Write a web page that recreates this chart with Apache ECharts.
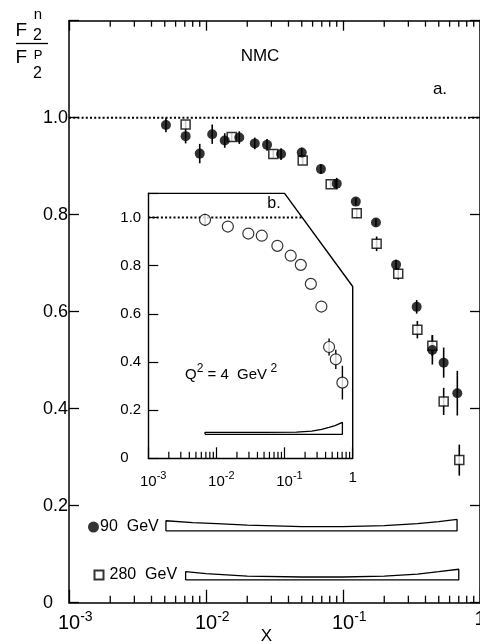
<!DOCTYPE html>
<html><head><meta charset="utf-8">
<script src="https://cdn.jsdelivr.net/npm/echarts@6/dist/echarts.min.js"></script>
<style>html,body{margin:0;padding:0;background:#fff}#c{width:480px;height:643px}</style>
</head><body><div id="c"></div><script>
const FONT = "'Liberation Sans', 'DejaVu Sans', sans-serif";

// ---- main panel (a.) data ----
const x90 = [0.0051,0.0071,0.0090,0.0111,0.0137,0.0175,0.0227,0.0279,0.0353,0.050,0.069,0.090,0.124,0.174,0.244,0.345,0.449,0.543,0.683];
const y90 = [0.985,0.962,0.926,0.966,0.953,0.959,0.947,0.944,0.925,0.928,0.894,0.864,0.827,0.784,0.697,0.610,0.521,0.495,0.432];
const e90 = [0.015,0.015,0.020,0.020,0.015,0.013,0.012,0.012,0.012,0.010,0.010,0.012,0.008,0.008,0.010,0.014,0.030,0.031,0.046];

const x280 = [0.0071,0.0154,0.031,0.0508,0.0813,0.126,0.176,0.253,0.349,0.449,0.543,0.706];
const y280 = [0.986,0.960,0.925,0.912,0.863,0.803,0.740,0.678,0.563,0.530,0.415,0.294];
const e280 = [0.008,0.008,0.008,0.008,0.008,0.010,0.015,0.012,0.018,0.022,0.028,0.032];

// systematic error bands
const band90X   = [0.0051,0.008,0.012,0.02,0.05,0.1,0.2,0.35,0.5,0.68];
const band90Top = [0.169,0.165,0.163,0.160,0.157,0.157,0.159,0.163,0.167,0.172];
const band90Base = 0.148;
const band280X   = [0.0071,0.01,0.02,0.05,0.1,0.2,0.35,0.5,0.7];
const band280Top = [0.064,0.060,0.055,0.053,0.053,0.055,0.059,0.064,0.069];
const band280Base = 0.047;

// ---- inset panel (b.) data ----
const xb = [0.0068,0.0147,0.0294,0.0463,0.0784,0.123,0.173,0.243,0.347,0.450,0.565,0.706];
const yb = [0.990,0.962,0.933,0.924,0.882,0.841,0.803,0.724,0.630,0.462,0.411,0.314];
const eb = [0.025,0,0,0,0,0,0,0,0,0.035,0.040,0.070];
const bandBX   = [0.0068,0.05,0.15,0.25,0.35,0.45,0.55,0.706];
const bandBTop = [0.108,0.108,0.109,0.113,0.120,0.128,0.136,0.149];
const bandBBase = 0.0995;
const frameX = [0.001,0.1,1,1];
const frameY = [1.1,1.1,0.713,0];
const unityBX = [0.001,0.181];

// ---- ticks / labels ----
const majorTicks = [0.001,0.01,0.1,1];
const decadeExp = ['-3','-2','-1',''];
const minorTicks = [0.002,0.003,0.004,0.005,0.006,0.007,0.008,0.009,
                    0.02,0.03,0.04,0.05,0.06,0.07,0.08,0.09,
                    0.2,0.3,0.4,0.5,0.6,0.7,0.8,0.9];
const yTicks = [0,0.2,0.4,0.6,0.8,1.0];
const yTickLabels = ['0','0.2','0.4','0.6','0.8','1.0'];

function zip(xs, ys){ return xs.map((x,i)=>[x, ys[i]]); }
function errData(xs, ys, es){ return xs.map((x,i)=>[x, ys[i]-es[i], ys[i]+es[i]]); }
function bandOutline(xs, tops, base){
  const pts = [[xs[0], base]];
  xs.forEach((x,i)=>pts.push([x, tops[i]]));
  pts.push([xs[xs.length-1], base]);
  pts.push([xs[0], base]);
  return pts;
}
function decadeLabel(v){
  let best = 0, d = 1e9;
  majorTicks.forEach((t,i)=>{ const dd = Math.abs(Math.log10(v)-Math.log10(t)); if (dd < d){d=dd;best=i;} });
  const e = decadeExp[best];
  if (e === '') return '{b|1}';
  return '{sp|}{b|10}{s|' + e + '}';
}
function yLabel(v){
  let best = 0, d = 1e9;
  yTicks.forEach((t,i)=>{ const dd = Math.abs(v-t); if (dd < d){d=dd;best=i;} });
  return d < 1e-6 ? yTickLabels[best] : '';
}
function errRender(w){
  return function(params, api){
    const lo = api.coord([api.value(0), api.value(1)]);
    const hi = api.coord([api.value(0), api.value(2)]);
    return {type:'line', shape:{x1:lo[0], y1:lo[1], x2:hi[0], y2:hi[1]},
            style:{stroke:'#000', lineWidth:w}};
  };
}
// minor log ticks, placed through the axis scale; dir = -1 (up from bottom) or +1 (down from top)
function tickRender(len, dir, w){
  return function(params, api){
    const p = api.coord([api.value(0), api.value(1)]);
    return {type:'line', shape:{x1:p[0], y1:p[1], x2:p[0], y2:p[1] + dir*len},
            style:{stroke:'#000', lineWidth:w}};
  };
}

const chart = echarts.init(document.getElementById('c'), null, {renderer:'canvas'});
const axisLineStyle = {color:'#000', width:1.5};

const option = {
  backgroundColor:'#fff',
  animation:false,
  textStyle:{fontFamily:FONT, color:'#000'},
  grid:[
    {left:69, right:0, top:20.7, bottom:40.3, outerBoundsMode:'none'},
    {left:148.3, top:193.3, width:204.4, height:265, outerBoundsMode:'none'}
  ],
  xAxis:[
    // 0 main bottom
    {type:'log', logBase:10, gridIndex:0, min:0.001, max:1, position:'bottom',
     axisLine:{show:true, onZero:false, lineStyle:axisLineStyle},
     axisTick:{show:true, inside:true, length:13, lineStyle:{color:'#000', width:1.3}},
     splitLine:{show:false}, minorTick:{show:false},
     axisLabel:{show:true, margin:7, formatter:decadeLabel, color:'#000',
       rich:{b:{fontSize:20, fontFamily:FONT, color:'#000'},
             s:{fontSize:14, fontFamily:FONT, color:'#000', padding:[0,0,13,0]},
             sp:{width:12.5}}}},
    // 1 main top
    {type:'log', logBase:10, gridIndex:0, min:0.001, max:1, position:'top',
     axisLine:{show:true, onZero:false, lineStyle:axisLineStyle},
     axisTick:{show:true, inside:true, length:10, lineStyle:{color:'#000', width:1.3}},
     axisLabel:{show:false}, splitLine:{show:false}},
    // 2 inset bottom
    {type:'log', logBase:10, gridIndex:1, min:0.001, max:1, position:'bottom',
     axisLine:{show:true, onZero:false, lineStyle:{color:'#000', width:1.4}},
     axisTick:{show:true, inside:true, length:11, lineStyle:{color:'#000', width:1.2}},
     splitLine:{show:false},
     axisLabel:{show:true, margin:12, formatter:decadeLabel, color:'#000',
       rich:{b:{fontSize:15, fontFamily:FONT, color:'#000'},
             s:{fontSize:11, fontFamily:FONT, color:'#000', padding:[0,0,12,0]},
             sp:{width:9.8}}}}
  ],
  yAxis:[
    {type:'value', gridIndex:0, min:0, max:1.2, interval:0.2, position:'left',
     axisLine:{show:true, onZero:false, lineStyle:axisLineStyle},
     axisTick:{show:true, inside:true, length:10, lineStyle:{color:'#000', width:1.3}},
     splitLine:{show:false}, showMaxLabel:false,
     axisLabel:{show:true, align:'left', margin:26, fontSize:18, fontFamily:FONT, color:'#000', formatter:yLabel}},
    {type:'value', gridIndex:0, min:0, max:1.2, interval:0.2, position:'right',
     axisLine:{show:true, onZero:false, lineStyle:axisLineStyle},
     axisTick:{show:true, inside:true, length:10, lineStyle:{color:'#000', width:1.3}},
     splitLine:{show:false}, axisLabel:{show:false}},
    {type:'value', gridIndex:1, min:0, max:1.1, interval:0.2, position:'left',
     axisLine:{show:true, onZero:false, lineStyle:{color:'#000', width:1.4}},
     axisTick:{show:true, inside:true, length:10, lineStyle:{color:'#000', width:1.2}},
     splitLine:{show:false}, showMaxLabel:false,
     axisLabel:{show:true, align:'left', margin:28, fontSize:15, fontFamily:FONT, color:'#000', formatter:yLabel}}
  ],
  legend:[
    {data:[{name:'90  GeV', icon:'circle'}], left:83, top:514, itemWidth:11, itemHeight:11,
     selectedMode:false, textStyle:{fontSize:16, fontFamily:FONT, color:'#000', padding:[0,0,0,-4]}},
    {data:[{name:'280  GeV', icon:'rect'}], left:88.5, top:562, itemWidth:9, itemHeight:9,
     selectedMode:false, textStyle:{fontSize:16, fontFamily:FONT, color:'#000', padding:[0,0,0,1]}}
  ],
  series:[
    // minor ticks (main bottom, main top, inset bottom)
    {type:'custom', xAxisIndex:0, yAxisIndex:0, data:minorTicks.map(v=>[v,0]), renderItem:tickRender(7,-1,1.3), silent:true, clip:false, z:6},
    {type:'custom', xAxisIndex:0, yAxisIndex:0, data:minorTicks.map(v=>[v,1.2]), renderItem:tickRender(6,1,1.3), silent:true, clip:false, z:6},
    {type:'custom', xAxisIndex:2, yAxisIndex:2, data:minorTicks.map(v=>[v,0]), renderItem:tickRender(6.5,-1,1.2), silent:true, clip:false, z:6},
    // main unity line
    {type:'line', xAxisIndex:0, yAxisIndex:0, data:[[0.001,1],[1,1]], symbol:'none', silent:true,
     lineStyle:{color:'#000', width:2, type:[2,2.2]}, z:1},
    // bands
    {type:'line', xAxisIndex:0, yAxisIndex:0, data:bandOutline(band90X, band90Top, band90Base), symbol:'none',
     lineStyle:{color:'#000', width:1.3}, z:2},
    {type:'line', xAxisIndex:0, yAxisIndex:0, data:bandOutline(band280X, band280Top, band280Base), symbol:'none',
     lineStyle:{color:'#000', width:1.3}, z:2},
    // error bars
    {type:'custom', xAxisIndex:0, yAxisIndex:0, data:errData(x90,y90,e90), renderItem:errRender(1.6), z:3},
    {type:'custom', xAxisIndex:0, yAxisIndex:0, data:errData(x280,y280,e280), renderItem:errRender(1.6), z:3},
    // points
    {name:'280  GeV', type:'scatter', xAxisIndex:0, yAxisIndex:0, data:zip(x280,y280), symbol:'rect', symbolSize:9,
     itemStyle:{color:'#fff', borderColor:'#000', borderWidth:1.5}, z:4},
    {name:'90  GeV', type:'scatter', xAxisIndex:0, yAxisIndex:0, data:zip(x90,y90), symbol:'circle', symbolSize:10,
     itemStyle:{color:'#000', borderColor:'#000', borderWidth:0}, z:5},

    // inset frame (cut corner)
    {type:'line', xAxisIndex:2, yAxisIndex:2, data:zip(frameX, frameY), symbol:'none',
     lineStyle:{color:'#000', width:1.4}, z:2},
    {type:'line', xAxisIndex:2, yAxisIndex:2, data:unityBX.map(x=>[x,1]), symbol:'none',
     lineStyle:{color:'#000', width:2, type:[2,2.2]}, z:1},
    {type:'line', xAxisIndex:2, yAxisIndex:2, data:bandOutline(bandBX, bandBTop, bandBBase), symbol:'none',
     lineStyle:{color:'#000', width:1.3}, z:2},
    {type:'custom', xAxisIndex:2, yAxisIndex:2, data:errData(xb,yb,eb), renderItem:errRender(1.4), z:3},
    {name:'Q2=4', type:'scatter', xAxisIndex:2, yAxisIndex:2, data:zip(xb,yb), symbol:'circle', symbolSize:11,
     itemStyle:{color:'#fff', borderColor:'#000', borderWidth:1.2}, z:4}
  ],
  graphic:[
    {type:'text', x:21.3, y:30.3, style:{text:'F', font:'19px '+FONT, fill:'#000', align:'center', verticalAlign:'middle'}},
    {type:'text', x:38, y:14.5, style:{text:'n', font:'15px '+FONT, fill:'#000', align:'center', verticalAlign:'middle'}},
    {type:'text', x:37.5, y:35.5, style:{text:'2', font:'16px '+FONT, fill:'#000', align:'center', verticalAlign:'middle'}},
    {type:'line', shape:{x1:16, y1:43.5, x2:48, y2:43.5}, style:{stroke:'#000', lineWidth:1.3}},
    {type:'text', x:21.3, y:58, style:{text:'F', font:'19px '+FONT, fill:'#000', align:'center', verticalAlign:'middle'}},
    {type:'text', x:38, y:55, style:{text:'P', font:'13px '+FONT, fill:'#000', align:'center', verticalAlign:'middle'}},
    {type:'text', x:37.5, y:73.3, style:{text:'2', font:'16px '+FONT, fill:'#000', align:'center', verticalAlign:'middle'}},
    {type:'text', x:260, y:56.5, style:{text:'NMC', font:'17px '+FONT, fill:'#000', align:'center', verticalAlign:'middle'}},
    {type:'text', x:440, y:89, style:{text:'a.', font:'17px '+FONT, fill:'#000', align:'center', verticalAlign:'middle'}},
    {type:'text', x:274, y:204, style:{text:'b.', font:'16px '+FONT, fill:'#000', align:'center', verticalAlign:'middle'}},
    {type:'text', x:185, y:375, style:{
      text:'{m|Q}{u|2}{m| = 4  GeV}{u| 2}', align:'left', verticalAlign:'middle',
      rich:{m:{fontSize:15, fontFamily:FONT, fill:'#000'}, u:{fontSize:12, fontFamily:FONT, fill:'#000', padding:[0,0,12,0]}}}},
    {type:'text', x:266.5, y:636, style:{text:'X', font:'17px '+FONT, fill:'#000', align:'center', verticalAlign:'middle'}}
  ]
};
chart.setOption(option);
</script></body></html>
